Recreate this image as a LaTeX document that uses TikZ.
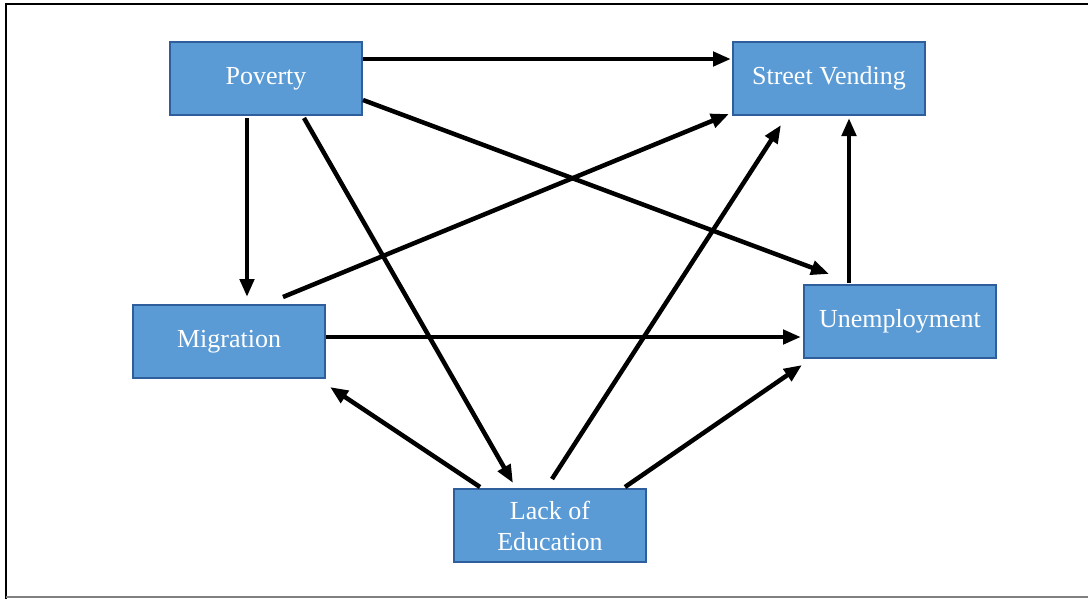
\documentclass[tikz,border=0pt]{standalone}
\usepackage{fontspec}
\setmainfont{Liberation Serif}
\usetikzlibrary{arrows.meta}
\definecolor{boxfill}{HTML}{5B9BD5}
\definecolor{boxline}{HTML}{2F5E9C}
\begin{document}
\begin{tikzpicture}[x=1pt,y=-1pt,
  box/.style={draw=boxline,line width=2.5pt,fill=boxfill,minimum width=192pt,minimum height=73pt,
    inner sep=0pt,text=white,align=center,font=\fontsize{26}{31}\selectfont},
  arr/.style={line width=4.5pt,-{Triangle[length=18pt,width=14pt]}}]
\useasboundingbox (0,0) rectangle (1088,598);
\draw[line width=2.5pt] (6,600) -- (6,4) -- (1090,4);
\draw[line width=1.5pt,gray] (6,597) -- (1090,597);
\node[box] (pov) at (266,78.5) {Poverty};
\node[box] (sv) at (829,78.5) {Street Vending};
\node[box] (mig) at (229,341.5) {Migration};
\node[box] (une) at (900,321.5) {Unemployment};
\node[box] (loe) at (550,525.5) {Lack of\\Education};
\draw[arr] ([xshift=97pt,yshift=19.5pt]pov.center) -- ([xshift=-98pt,yshift=19.5pt]sv.center);
\draw[arr] ([xshift=97pt,yshift=-21.5pt]pov.center) -- ([xshift=-71pt,yshift=47.5pt]une.center);
\draw[arr] ([xshift=-19pt,yshift=-39.5pt]pov.center) -- ([xshift=18pt,yshift=44.5pt]mig.center);
\draw[arr] ([xshift=38pt,yshift=-39.5pt]pov.center) -- ([xshift=-37pt,yshift=42.5pt]loe.center);
\draw[arr] ([xshift=54pt,yshift=44.5pt]mig.center) -- ([xshift=-100pt,yshift=-35.5pt]sv.center);
\draw[arr] ([xshift=97pt,yshift=4.5pt]mig.center) -- ([xshift=-99pt,yshift=-15.5pt]une.center);
\draw[arr] ([xshift=-70pt,yshift=38.5pt]loe.center) -- ([xshift=101pt,yshift=-45.5pt]mig.center);
\draw[arr] ([xshift=2pt,yshift=46.5pt]loe.center) -- ([xshift=-48pt,yshift=-46.5pt]sv.center);
\draw[arr] ([xshift=75pt,yshift=38.5pt]loe.center) -- ([xshift=-98pt,yshift=-43.5pt]une.center);
\draw[arr] ([xshift=-51pt,yshift=38.5pt]une.center) -- ([xshift=20pt,yshift=-39.5pt]sv.center);
\end{tikzpicture}
\end{document}
